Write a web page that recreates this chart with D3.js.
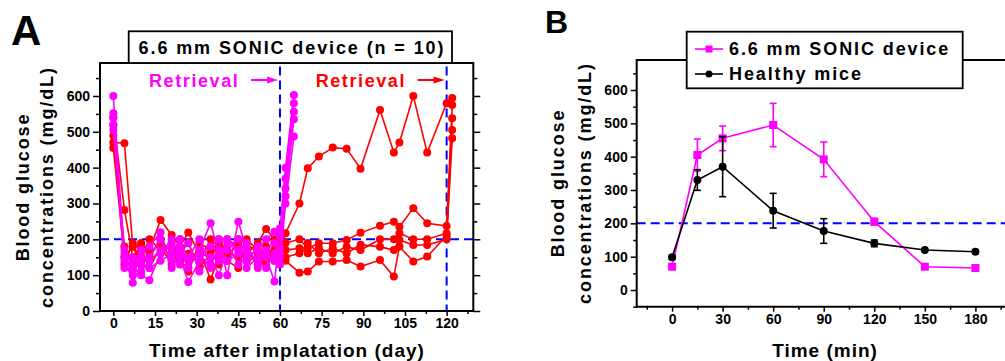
<!DOCTYPE html>
<html>
<head>
<meta charset="utf-8">
<script src="https://cdn.jsdelivr.net/npm/d3@7"></script>
<style>
  body { margin: 0; background: #fff; }
  svg text { font-family: "Liberation Sans", Arial, sans-serif; font-weight: bold; fill: #000; }
</style>
</head>
<body>
<svg id="chart" width="1005" height="361"></svg>
<script>
// ---------- Panel A data (blood glucose per mouse, mg/dL) ----------
const daysPre = [0, 4, 7, 10, 13, 17, 21, 24, 27, 31, 35, 38, 41, 45, 48, 52, 55, 58, 60];
const daysRedPost = [62, 67, 70, 74, 79, 84, 89, 96, 101, 103, 108, 113, 120, 122];
const daysMagentaPost = [62, 65];

// red mice: device retrieved at day 120
const redPre = [
  [540, 282, 150, 184, 170, 254, 212, 180, 219, 160, 150, 190, 170, 200, 160, 190, 229, 200, 170],
  [490, 180, 116, 190, 150, 200, 160, 140, 120, 170, 88, 150, 200, 180, 140, 150, 180, 140, 190],
  [455, 150, 180, 130, 160, 190, 140, 200, 110, 190, 170, 130, 150, 190, 200, 170, 150, 160, 170],
  [470, 468, 180, 150, 200, 170, 190, 150, 160, 140, 200, 180, 160, 150, 170, 130, 140, 190, 150],
  [520, 130, 190, 170, 120, 180, 130, 170, 190, 120, 160, 200, 140, 120, 190, 160, 130, 170, 140]
];
const redPost = [
  [217, 300, 398, 431, 456, 453, 397, 561, 442, 470, 600, 442, 580, 594],
  [190, 200, 175, 189, 189, 198, 218, 238, 249, 235, 287, 245, 237, 575],
  [170, 175, 161, 175, 161, 179, 170, 200, 200, 217, 200, 200, 217, 538],
  [150, 161, 190, 161, 175, 161, 185, 179, 170, 198, 184, 184, 200, 505],
  [140, 107, 110, 138, 138, 142, 124, 142, 96, 180, 138, 152, 210, 482]
];

// magenta mice: device retrieved at day 60
const magentaPre = [
  [600, 150, 79, 130, 150, 200, 140, 180, 120, 170, 245, 160, 190, 130, 150, 170, 200, 221, 230],
  [552, 140, 120, 100, 86, 160, 200, 150, 81, 140, 180, 200, 100, 249, 170, 140, 120, 160, 170],
  [505, 170, 130, 150, 180, 220, 120, 160, 190, 110, 150, 100, 170, 200, 140, 180, 150, 82, 210],
  [540, 120, 150, 110, 140, 170, 180, 130, 150, 200, 130, 170, 140, 160, 120, 150, 170, 190, 130],
  [520, 160, 100, 170, 120, 140, 160, 200, 140, 160, 120, 140, 200, 170, 190, 120, 160, 140, 150]
];
const magentaPost = [
  [400, 603],
  [342, 556],
  [320, 535],
  [300, 487],
  [370, 580]
];

const yTicksA = [0, 100, 200, 300, 400, 500, 600];
const xTicksA = [0, 15, 30, 45, 60, 75, 90, 105, 120];
const retrievalDays = [60, 120];
const threshold = 200;

// ---------- Panel B data (glucose tolerance test) ----------
const timesB = [0, 15, 30, 60, 90, 120, 150, 180];
const sonicMean = [70, 405, 455, 495, 392, 205, 70, 66];
const sonicErr = [0, 48, 37, 65, 52, 10, 0, 0];
const healthyMean = [98, 330, 370, 238, 177, 140, 120, 115];
const healthyErr = [6, 31, 90, 52, 37, 10, 0, 0];
const xTicksB = [0, 30, 60, 90, 120, 150, 180];
const yTicksB = [0, 100, 200, 300, 400, 500, 600];

const RED = "#ff0000", MAGENTA = "#ff00ff", BLUE = "#0000ff";

const svg = d3.select("#chart");

function styleAxis(g, fontSize) {
  g.select(".domain").remove();
  g.selectAll(".tick line").attr("stroke", "#000").attr("stroke-width", 1.5);
  g.selectAll(".tick text").style("font-size", fontSize + "px")
    .style("font-family", "'Liberation Sans', Arial, sans-serif")
    .style("font-weight", "bold").attr("fill", "#000");
}

// ================= Panel A =================
const xA = d3.scaleLinear().domain([-4.8, 129.6]).range([100, 473.3]);
const yA = d3.scaleLinear().domain([0, 692]).range([311, 63]);
const gA = svg.append("g");

// threshold and retrieval lines
gA.append("line")
  .attr("x1", xA.range()[0]).attr("x2", xA.range()[1])
  .attr("y1", yA(threshold)).attr("y2", yA(threshold))
  .attr("stroke", BLUE).attr("stroke-width", 2).attr("stroke-dasharray", "9,5");
retrievalDays.forEach(d => {
  gA.append("line")
    .attr("x1", xA(d)).attr("x2", xA(d))
    .attr("y1", yA(682)).attr("y2", yA(0))
    .attr("stroke", BLUE).attr("stroke-width", 2).attr("stroke-dasharray", "9,5");
});

const lineA = d3.line().x(d => xA(d[0])).y(d => yA(d[1]));
function drawMouse(days, vals, color) {
  const pts = days.map((d, i) => [d, vals[i]]);
  gA.append("path").datum(pts)
    .attr("d", lineA).attr("fill", "none")
    .attr("stroke", color).attr("stroke-width", 1.6);
  gA.append("g").selectAll("circle").data(pts).enter().append("circle")
    .attr("cx", d => xA(d[0])).attr("cy", d => yA(d[1]))
    .attr("r", 4).attr("fill", color);
}
redPre.forEach((v, i) => drawMouse(daysPre.concat(daysRedPost), v.concat(redPost[i]), RED));
magentaPre.forEach((v, i) => drawMouse(daysPre.concat(daysMagentaPost), v.concat(magentaPost[i]), MAGENTA));

// axes A
const axLA = gA.append("g").attr("transform", "translate(100,0)")
  .call(d3.axisLeft(yA).tickValues(yTicksA).tickSize(7).tickPadding(3));
styleAxis(axLA, 14);
const axLAm = gA.append("g").attr("transform", "translate(100,0)")
  .call(d3.axisLeft(yA).tickValues(d3.range(50, 700, 100)).tickSize(4).tickFormat(""));
styleAxis(axLAm, 14);
const axRA = gA.append("g").attr("transform", "translate(473.3,0)")
  .call(d3.axisRight(yA).tickValues(yTicksA).tickSize(7).tickFormat(""));
styleAxis(axRA, 14);
const axRAm = gA.append("g").attr("transform", "translate(473.3,0)")
  .call(d3.axisRight(yA).tickValues(d3.range(50, 700, 100)).tickSize(4).tickFormat(""));
styleAxis(axRAm, 14);
const axBA = gA.append("g").attr("transform", "translate(0,311)")
  .call(d3.axisBottom(xA).tickValues(xTicksA).tickSize(5).tickPadding(2));
styleAxis(axBA, 14);
const axBAm = gA.append("g").attr("transform", "translate(0,311)")
  .call(d3.axisBottom(xA).tickValues(d3.range(7.5, 130, 15)).tickSize(3).tickFormat(""));
styleAxis(axBAm, 14);

gA.append("rect").attr("x", 100).attr("y", 63).attr("width", 373.3).attr("height", 248)
  .attr("fill", "none").attr("stroke", "#000").attr("stroke-width", 2);

// title box
gA.append("rect").attr("x", 128.7).attr("y", 31.3).attr("width", 323.3).attr("height", 31.7)
  .attr("fill", "#fff").attr("stroke", "#000").attr("stroke-width", 1.8);
gA.append("text").attr("x", 292).attr("y", 47.5).attr("text-anchor", "middle")
  .attr("dominant-baseline", "central").style("font-size", "18px").style("letter-spacing", "1.9px")
  .text("6.6 mm SONIC device (n = 10)");

// retrieval annotations
function retrieval(day, color) {
  const xe = xA(day) - 2;
  gA.append("text").attr("x", xe - 129).attr("y", 87)
    .style("font-size", "18px").style("letter-spacing", "1.6px").style("fill", color)
    .text("Retrieval");
  gA.append("line").attr("x1", xe - 27).attr("x2", xe - 8).attr("y1", 80).attr("y2", 80)
    .attr("stroke", color).attr("stroke-width", 2);
  gA.append("path").attr("d", `M${xe - 11},76.5 L${xe},80 L${xe - 11},83.5 Z`).attr("fill", color);
}
retrieval(60, MAGENTA);
retrieval(120, RED);

gA.append("text").attr("x", 11).attr("y", 45).style("font-size", "42px").text("A");
gA.append("text").attr("transform", "translate(23,187) rotate(-90)").attr("text-anchor", "middle")
  .attr("dy", "0.35em").style("font-size", "18px").style("letter-spacing", "1.9px").text("Blood glucose");
gA.append("text").attr("transform", "translate(47,187) rotate(-90)").attr("text-anchor", "middle")
  .attr("dy", "0.35em").style("font-size", "18px").style("letter-spacing", "1.9px").text("concentrations (mg/dL)");
gA.append("text").attr("x", 287).attr("y", 357).attr("text-anchor", "middle")
  .style("font-size", "19px").style("letter-spacing", "1px").text("Time after implatation (day)");

// ================= Panel B =================
const xB = d3.scaleLinear().domain([-21, 200]).range([636.7, 1009.1]);
const yB = d3.scaleLinear().domain([-50, 690]).range([306.7, 60]);
const gB = svg.append("g");

gB.append("line").attr("x1", 636.7).attr("x2", 1005)
  .attr("y1", yB(threshold)).attr("y2", yB(threshold))
  .attr("stroke", BLUE).attr("stroke-width", 2).attr("stroke-dasharray", "9,5");

const lineB = d3.line().x(d => xB(d[0])).y(d => yB(d[1]));
function drawGroup(mean, err, color, marker) {
  const pts = timesB.map((t, i) => [t, mean[i], err[i]]);
  gB.append("path").datum(pts).attr("d", lineB)
    .attr("fill", "none").attr("stroke", color).attr("stroke-width", 1.6);
  const eb = gB.append("g").attr("stroke", color).attr("stroke-width", 1.6);
  pts.filter(d => d[2] > 0).forEach(d => {
    const x = xB(d[0]), y1 = yB(d[1] - d[2]), y2 = yB(d[1] + d[2]);
    eb.append("line").attr("x1", x).attr("x2", x).attr("y1", y1).attr("y2", y2);
    eb.append("line").attr("x1", x - 3.5).attr("x2", x + 3.5).attr("y1", y1).attr("y2", y1);
    eb.append("line").attr("x1", x - 3.5).attr("x2", x + 3.5).attr("y1", y2).attr("y2", y2);
  });
  if (marker === "square") {
    gB.append("g").selectAll("rect").data(pts).enter().append("rect")
      .attr("x", d => xB(d[0]) - 4).attr("y", d => yB(d[1]) - 4)
      .attr("width", 8).attr("height", 8).attr("fill", color);
  } else {
    gB.append("g").selectAll("circle").data(pts).enter().append("circle")
      .attr("cx", d => xB(d[0])).attr("cy", d => yB(d[1])).attr("r", 4).attr("fill", color);
  }
}
drawGroup(sonicMean, sonicErr, MAGENTA, "square");
drawGroup(healthyMean, healthyErr, "#000", "circle");

const axLB = gB.append("g").attr("transform", "translate(636.7,0)")
  .call(d3.axisLeft(yB).tickValues(yTicksB).tickSize(6).tickPadding(3));
styleAxis(axLB, 14);
const axLBm = gB.append("g").attr("transform", "translate(636.7,0)")
  .call(d3.axisLeft(yB).tickValues(d3.range(-50, 700, 100)).tickSize(3.5).tickFormat(""));
styleAxis(axLBm, 14);
const axBB = gB.append("g").attr("transform", "translate(0,306.7)")
  .call(d3.axisBottom(xB).tickValues(xTicksB).tickSize(5).tickPadding(2));
styleAxis(axBB, 14);
const axBBm = gB.append("g").attr("transform", "translate(0,306.7)")
  .call(d3.axisBottom(xB).tickValues(d3.range(-15, 200, 30)).tickSize(3).tickFormat(""));
styleAxis(axBBm, 14);

gB.append("path").attr("d", "M1006,60 H636.7 V306.7 H1006")
  .attr("fill", "none").attr("stroke", "#000").attr("stroke-width", 2);

// legend
gB.append("rect").attr("x", 686.7).attr("y", 31.7).attr("width", 276).attr("height", 56.6)
  .attr("fill", "#fff").attr("stroke", "#000").attr("stroke-width", 1.8);
const legendItems = [
  { label: "6.6 mm SONIC device", color: MAGENTA, marker: "square", y: 49 },
  { label: "Healthy mice", color: "#000", marker: "circle", y: 74 }
];
legendItems.forEach(it => {
  gB.append("line").attr("x1", 695).attr("x2", 723).attr("y1", it.y).attr("y2", it.y)
    .attr("stroke", it.color).attr("stroke-width", 1.6);
  if (it.marker === "square") {
    gB.append("rect").attr("x", 705.5).attr("y", it.y - 3.5).attr("width", 7).attr("height", 7).attr("fill", it.color);
  } else {
    gB.append("circle").attr("cx", 709).attr("cy", it.y).attr("r", 3.5).attr("fill", it.color);
  }
  gB.append("text").attr("x", 729).attr("y", it.y).attr("dominant-baseline", "central")
    .style("font-size", "18px").style("letter-spacing", "1.9px").text(it.label);
});

gB.append("text").attr("x", 545).attr("y", 33).style("font-size", "32px").text("B");
gB.append("text").attr("transform", "translate(558,183) rotate(-90)").attr("text-anchor", "middle")
  .attr("dy", "0.35em").style("font-size", "18px").style("letter-spacing", "1.9px").text("Blood glucose");
gB.append("text").attr("transform", "translate(585,183) rotate(-90)").attr("text-anchor", "middle")
  .attr("dy", "0.35em").style("font-size", "18px").style("letter-spacing", "1.9px").text("concentrations (mg/dL)");
gB.append("text").attr("x", 825).attr("y", 357).attr("text-anchor", "middle")
  .style("font-size", "19px").style("letter-spacing", "1px").text("Time (min)");
</script>
</body>
</html>
